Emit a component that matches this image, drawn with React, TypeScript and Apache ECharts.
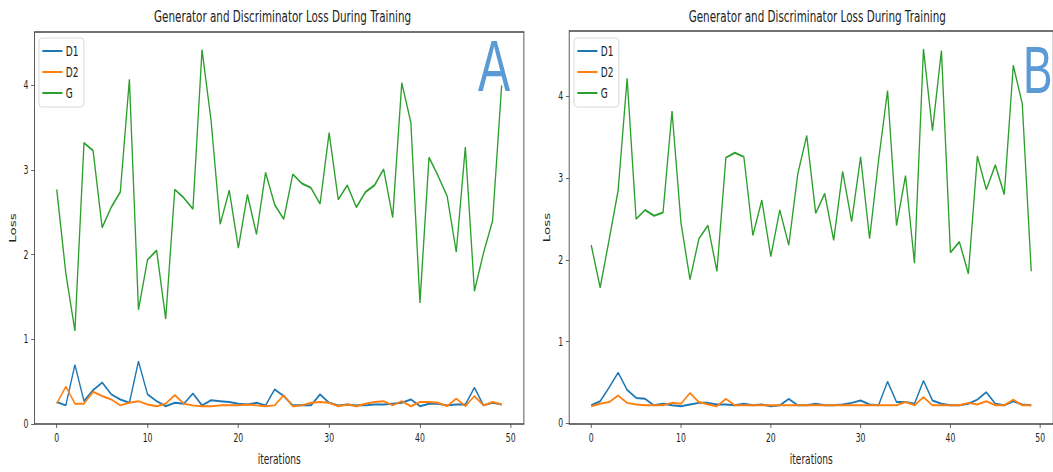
import React, { useEffect, useRef } from "react";
import * as echarts from "echarts";

// ---------- data ----------
const ITER = Array.from({ length: 50 }, (_, i) => i);
const X_TICKS = [0, 10, 20, 30, 40, 50];
const Y_TICKS = [0, 1, 2, 3, 4];
const SERIES_NAMES = ["D1", "D2", "G"];
const TITLE = "Generator and Discriminator Loss During Training";

const A_D1 = [
  0.26, 0.22, 0.70, 0.27, 0.40, 0.49, 0.35, 0.29, 0.25, 0.74,
  0.35, 0.27, 0.21, 0.25, 0.24, 0.36, 0.22, 0.28, 0.27, 0.26,
  0.24, 0.23, 0.25, 0.22, 0.41, 0.33, 0.22, 0.22, 0.22, 0.35,
  0.25, 0.22, 0.23, 0.22, 0.22, 0.23, 0.23, 0.24, 0.25, 0.29,
  0.21, 0.24, 0.24, 0.22, 0.23, 0.23, 0.43, 0.22, 0.25, 0.23,
];
const A_D2 = [
  0.24, 0.44, 0.24, 0.24, 0.38, 0.33, 0.29, 0.22, 0.25, 0.27,
  0.23, 0.21, 0.24, 0.34, 0.24, 0.22, 0.21, 0.21, 0.22, 0.22,
  0.22, 0.23, 0.22, 0.21, 0.22, 0.34, 0.21, 0.22, 0.25, 0.26,
  0.25, 0.21, 0.23, 0.21, 0.24, 0.26, 0.27, 0.22, 0.27, 0.21,
  0.26, 0.26, 0.25, 0.21, 0.30, 0.21, 0.33, 0.22, 0.26, 0.23,
];
const A_G = [
  2.77, 1.78, 1.10, 3.32, 3.23, 2.32, 2.56, 2.74, 4.07, 1.35,
  1.94, 2.05, 1.24, 2.77, 2.67, 2.54, 4.42, 3.58, 2.36, 2.76,
  2.08, 2.71, 2.24, 2.97, 2.59, 2.42, 2.95, 2.84, 2.79, 2.60,
  3.44, 2.65, 2.82, 2.56, 2.74, 2.82, 3.01, 2.44, 4.03, 3.56,
  1.43, 3.15, 2.93, 2.69, 2.03, 3.27, 1.57, 2.02, 2.40, 4.00,
];

const B_D1 = [
  0.22, 0.27, 0.44, 0.62, 0.41, 0.31, 0.30, 0.22, 0.24, 0.22,
  0.21, 0.23, 0.25, 0.25, 0.23, 0.23, 0.22, 0.24, 0.22, 0.23,
  0.21, 0.22, 0.30, 0.22, 0.22, 0.24, 0.22, 0.22, 0.23, 0.25,
  0.28, 0.23, 0.22, 0.51, 0.26, 0.26, 0.24, 0.52, 0.28, 0.24,
  0.22, 0.22, 0.24, 0.29, 0.38, 0.24, 0.22, 0.27, 0.23, 0.22,
];
const B_D2 = [
  0.21, 0.24, 0.26, 0.34, 0.25, 0.23, 0.22, 0.22, 0.22, 0.25,
  0.24, 0.37, 0.26, 0.23, 0.21, 0.30, 0.22, 0.22, 0.22, 0.22,
  0.22, 0.22, 0.22, 0.22, 0.22, 0.22, 0.22, 0.22, 0.22, 0.22,
  0.22, 0.22, 0.22, 0.22, 0.22, 0.26, 0.22, 0.32, 0.22, 0.22,
  0.22, 0.22, 0.25, 0.23, 0.27, 0.22, 0.22, 0.29, 0.22, 0.22,
];
const B_G = [
  2.18, 1.66, 2.25, 2.85, 4.22, 2.50, 2.61, 2.54, 2.58, 3.82,
  2.45, 1.76, 2.26, 2.42, 1.86, 3.25, 3.31, 3.26, 2.30, 2.73,
  2.04, 2.61, 2.18, 3.05, 3.52, 2.57, 2.81, 2.24, 3.08, 2.47,
  3.26, 2.26, 3.22, 4.07, 2.42, 3.03, 1.96, 4.58, 3.58, 4.56,
  2.09, 2.22, 1.83, 3.27, 2.86, 3.16, 2.80, 4.38, 3.91, 1.86,
];

const COLORS = ["#1f77b4", "#ff7f0e", "#2ca02c"];

// ---------- layout ----------
const SX = 0.67; // horizontal squash of the original figure
const px = (v: number) => v / SX;
const FONT = "'DejaVu Sans', sans-serif";

function mkX(gridIndex: number) {
  return {
    type: "value",
    gridIndex,
    min: -2.45,
    max: 51.45,
    axisLine: { show: false, onZero: false },
    splitLine: { show: false },
    axisTick: { show: true, length: 4, lineStyle: { color: "#444" }, customValues: X_TICKS },
    axisLabel: { customValues: X_TICKS, fontSize: 11.5, color: "#222", margin: 8, fontFamily: FONT },
    name: "iterations",
    nameLocation: "middle",
    nameGap: 28,
    nameTextStyle: { fontSize: 13.5, color: "#222", fontFamily: FONT },
  };
}

function mkY(gridIndex: number, min: number, max: number) {
  return {
    type: "value",
    gridIndex,
    min,
    max,
    axisLine: { show: false, onZero: false },
    splitLine: { show: false },
    axisTick: { show: true, length: 5, lineStyle: { color: "#444" }, customValues: Y_TICKS },
    axisLabel: { customValues: Y_TICKS, fontSize: 11.5, color: "#222", margin: 9, fontFamily: FONT },
    name: "Loss",
    nameLocation: "middle",
    nameGap: 26,
    nameRotate: 90,
    nameTextStyle: { fontSize: 13.5, color: "#222", fontFamily: FONT },
  };
}

function mkLegend(left: number) {
  return {
    orient: "vertical",
    left: px(left),
    top: 38,
    data: SERIES_NAMES,
    icon: "path://M0,0H30V2H0Z",
    itemWidth: 30,
    itemHeight: 14,
    itemGap: 7,
    padding: [6, 8, 7, 5],
    borderColor: "#d0d0d0",
    borderWidth: 1,
    borderRadius: 4,
    backgroundColor: "rgba(255,255,255,0.85)",
    textStyle: { fontSize: 13.5, color: "#222", fontFamily: FONT },
  };
}

function mkSeries(idx: number, arrs: number[][]) {
  return arrs.map((arr, k) => ({
    type: "line",
    name: SERIES_NAMES[k],
    xAxisIndex: idx,
    yAxisIndex: idx,
    data: ITER.map((i) => [i, arr[i]]),
    symbol: "none",
    color: COLORS[k],
    lineStyle: { width: 2, color: COLORS[k] },
    itemStyle: { color: COLORS[k] },
    z: 2 + k,
  }));
}

export default function App() {
  const ref = useRef<HTMLDivElement>(null);
  useEffect(() => {
    if (!ref.current) return;
    const chart = echarts.init(ref.current, undefined, { renderer: "svg" });
    chart.setOption({
      animation: false,
      backgroundColor: "#ffffff",
      title: [
        {
          text: TITLE,
          left: px(279.2),
          top: 4,
          textAlign: "center",
          textStyle: { fontSize: 15.5, fontWeight: "normal", color: "#222", fontFamily: FONT },
        },
        {
          text: TITLE,
          left: px(813.9),
          top: 4,
          textAlign: "center",
          textStyle: { fontSize: 15.5, fontWeight: "normal", color: "#222", fontFamily: FONT },
        },
      ],
      legend: [mkLegend(39), mkLegend(574)],
      grid: [
        {
          left: px(34.5), top: 32, width: px(489.4), height: 392,
          show: true, borderColor: "#444", borderWidth: 1.3, backgroundColor: "transparent",
        },
        {
          left: px(569.2), top: 31, width: px(489.4), height: 393,
          show: true, borderColor: "#444", borderWidth: 1.3, backgroundColor: "transparent",
        },
      ],
      xAxis: [mkX(0), mkX(1)],
      yAxis: [mkY(0, 0, 4.63), mkY(1, -0.0085, 4.8)],
      series: [...mkSeries(0, [A_D1, A_D2, A_G]), ...mkSeries(1, [B_D1, B_D2, B_G])],
      graphic: [
        {
          type: "text",
          left: px(478),
          top: 30,
          z: 10,
          style: { text: "A", fontSize: 72, fontFamily: "'Liberation Sans', sans-serif", fill: "#5b9bd5" },
        },
        {
          type: "text",
          left: px(1023),
          top: 37,
          z: 10,
          style: { text: "B", fontSize: 66, fontFamily: "'Liberation Sans', sans-serif", fill: "#5b9bd5" },
        },
      ],
    });
    return () => chart.dispose();
  }, []);

  return (
    <div
      style={{
        position: "absolute",
        left: 0,
        top: 0,
        width: 1053,
        height: 472,
        overflow: "hidden",
        background: "#fff",
      }}
    >
      <div
        ref={ref}
        style={{
          width: px(1053),
          height: 472,
          transform: `scaleX(${SX})`,
          transformOrigin: "0 0",
        }}
      />
    </div>
  );
}
